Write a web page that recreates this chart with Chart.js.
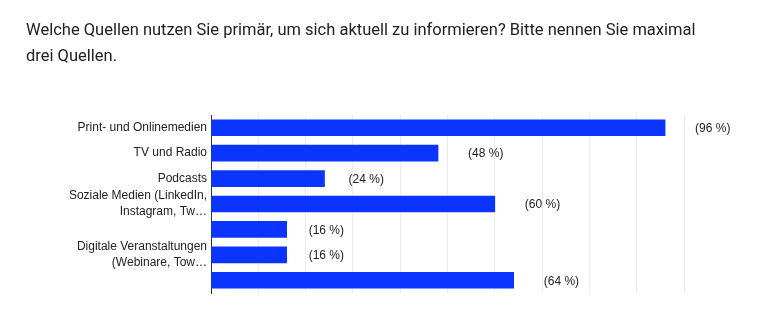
<!DOCTYPE html>
<html lang="de">
<head>
<meta charset="utf-8">
<title>Quellen</title>
<script src="https://cdn.jsdelivr.net/npm/chart.js@4/dist/chart.umd.min.js"></script>
<style>
  html, body { margin: 0; padding: 0; background: #fff; }
  #wrap { position: relative; width: 767px; height: 326px; overflow: hidden; }
  #frage {
    position: absolute; left: 26px; top: 17px;
    font-family: Roboto, "Noto Sans", sans-serif; font-size: 16.5px; line-height: 26px;
    color: #202124; white-space: nowrap;
  }
  #myBarChart { position: absolute; left: 0; top: 0; }
</style>
</head>
<body>
<div id="wrap">
  <canvas id="myBarChart" width="767" height="326"></canvas>
  <div id="frage">Welche Quellen nutzen Sie primär, um sich aktuell zu informieren? Bitte nennen Sie maximal<br>drei Quellen.</div>
</div>
<script>
// Antwortkategorien (leere Beschriftungen werden im Diagramm ausgelassen)
const quellen = [
    'Print- und Onlinemedien',
    'TV und Radio',
    'Podcasts',
    ['Soziale Medien (LinkedIn,', 'Instagram, Tw…'],
    '',
    ['Digitale Veranstaltungen', '(Webinare, Tow…'],
    ''
];
// Anteil der Antworten in Prozent
const anteile = [96, 48, 24, 60, 16, 16, 64];
// Rasterlinien der x-Achse
const achseMax = 100;
const achseSchritt = 10;

// Prozentwert rechts neben jedem Balken, bei kurzen Balken etwas näher dran
const prozentLabels = {
    id: 'prozentLabels',
    afterDatasetsDraw(chart) {
        const ctx = chart.ctx;
        const meta = chart.getDatasetMeta(0);
        const x0 = chart.scales.x.left;
        ctx.save();
        ctx.font = '12px Arial, "Liberation Sans", sans-serif';
        ctx.fillStyle = '#222222';
        ctx.textAlign = 'left';
        ctx.textBaseline = 'middle';
        meta.data.forEach((bar, i) => {
            const abstand = Math.min(30, 18 + (bar.x - x0) * 0.053);
            ctx.fillText('(' + anteile[i] + ' %)', bar.x + abstand, bar.y + 1);
        });
        ctx.restore();
    }
};

const ctxBar = document.getElementById('myBarChart').getContext('2d');
const myBarChart = new Chart(ctxBar, {
    type: 'bar',
    data: {
        labels: quellen,
        datasets: [{
            data: anteile,
            backgroundColor: '#0b35ff',
            borderWidth: 0,
            barThickness: 16
        }]
    },
    options: {
        indexAxis: 'y',
        responsive: false,
        animation: false,
        layout: { padding: { top: 115, bottom: 33, right: 83, left: 0 } },
        plugins: {
            legend: { display: false },
            tooltip: { enabled: false }
        },
        scales: {
            x: {
                min: 0,
                max: achseMax,
                ticks: { display: false, stepSize: achseSchritt },
                grid: { color: '#ebebeb', drawTicks: false },
                border: { display: false }
            },
            y: {
                afterFit(scale) { scale.width = 211; },
                ticks: {
                    autoSkip: false,
                    color: '#222222',
                    padding: 4,
                    font: { family: 'Arial, "Liberation Sans", sans-serif', size: 12, lineHeight: 1.35 }
                },
                grid: { display: false, drawTicks: false },
                border: { display: true, color: '#333333', width: 1 }
            }
        }
    },
    plugins: [prozentLabels]
});
</script>
</body>
</html>
